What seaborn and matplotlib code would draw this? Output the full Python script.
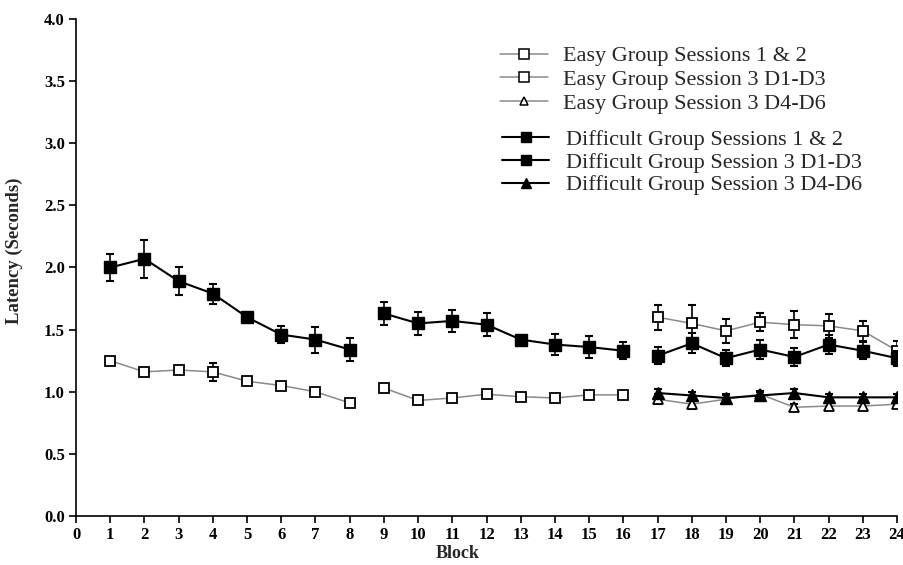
import matplotlib
matplotlib.use("Agg")
import matplotlib.pyplot as plt
from matplotlib.lines import Line2D
import numpy as np
import pandas as pd
import seaborn as sns

# Blocks per session
blocks_s12_a = list(range(1, 9))
blocks_s12_b = list(range(9, 17))
blocks_s3 = list(range(17, 25))

# Easy group
easy_s12_a = [1.25, 1.16, 1.175, 1.16, 1.085, 1.05, 1.00, 0.91]
easy_s12_a_sem = [0.03, 0.03, 0.03, 0.075, 0.03, 0.03, 0.03, 0.03]
easy_s12_b = [1.03, 0.93, 0.95, 0.98, 0.96, 0.95, 0.975, 0.975]
easy_s12_b_sem = [0.03, 0.03, 0.03, 0.03, 0.03, 0.03, 0.03, 0.03]
easy_s3_d13 = [1.60, 1.55, 1.49, 1.56, 1.54, 1.53, 1.49, 1.33]
easy_s3_d13_sem = [0.10, 0.15, 0.095, 0.075, 0.11, 0.095, 0.08, 0.08]
easy_s3_d46 = [0.94, 0.90, 0.94, 0.98, 0.875, 0.885, 0.885, 0.90]
easy_s3_d46_sem = [0.04, 0.04, 0.03, 0.03, 0.03, 0.03, 0.03, 0.03]

# Difficult group
diff_s12_a = [2.00, 2.07, 1.89, 1.79, 1.60, 1.46, 1.42, 1.34]
diff_s12_a_sem = [0.105, 0.155, 0.11, 0.08, 0.03, 0.07, 0.105, 0.095]
diff_s12_b = [1.63, 1.55, 1.57, 1.54, 1.42, 1.38, 1.36, 1.33]
diff_s12_b_sem = [0.09, 0.09, 0.09, 0.095, 0.03, 0.085, 0.085, 0.07]
diff_s3_d13 = [1.29, 1.39, 1.27, 1.34, 1.28, 1.38, 1.33, 1.27]
diff_s3_d13_sem = [0.07, 0.08, 0.065, 0.08, 0.075, 0.08, 0.07, 0.06]
diff_s3_d46 = [0.99, 0.97, 0.95, 0.97, 0.99, 0.955, 0.955, 0.955]
diff_s3_d46_sem = [0.03, 0.03, 0.03, 0.03, 0.03, 0.03, 0.03, 0.03]

legend_easy = ["Easy Group Sessions 1 & 2",
               "Easy Group Session 3 D1-D3",
               "Easy Group Session 3 D4-D6"]
legend_diff = ["Difficult Group Sessions 1 & 2",
               "Difficult Group Session 3 D1-D3",
               "Difficult Group Session 3 D4-D6"]

x_ticks = list(range(0, 25))
y_ticks = [0.0, 0.5, 1.0, 1.5, 2.0, 2.5, 3.0, 3.5, 4.0]

sns.set_theme(style="ticks")
plt.rcParams["font.family"] = ["Liberation Serif", "DejaVu Serif"]

GREY = "#8a8a8a"
easy_style = dict(color=GREY, lw=1.1, mfc="white", mec="black", mew=1.3)
diff_style = dict(color="black", lw=1.5, mfc="black", mec="black", mew=1.0)

segments = [
    (blocks_s12_a, easy_s12_a, easy_s12_a_sem, "s", 7.5, easy_style, 3),
    (blocks_s12_b, easy_s12_b, easy_s12_b_sem, "s", 7.5, easy_style, 3),
    (blocks_s3, easy_s3_d13, easy_s3_d13_sem, "s", 7.5, easy_style, 3),
    (blocks_s3, easy_s3_d46, easy_s3_d46_sem, "^", 7.5, easy_style, 3),
    (blocks_s12_a, diff_s12_a, diff_s12_a_sem, "s", 8.5, diff_style, 4),
    (blocks_s12_b, diff_s12_b, diff_s12_b_sem, "s", 8.5, diff_style, 4),
    (blocks_s3, diff_s3_d13, diff_s3_d13_sem, "s", 8.5, diff_style, 4),
    (blocks_s3, diff_s3_d46, diff_s3_d46_sem, "^", 8.0, diff_style, 4),
]

fig = plt.figure(figsize=(9.04, 5.65), dpi=100)
ax = fig.add_axes([0.0841, 0.0867, 0.9082, 0.8797])

for xs, ys, es, mk, ms, st, z in segments:
    df = pd.DataFrame({"Block": xs, "Latency": ys})
    ax.errorbar(xs, ys, yerr=es, fmt="none", ecolor="black", elinewidth=1.2,
                capsize=3, capthick=1.5, zorder=z - 0.5)
    sns.lineplot(data=df, x="Block", y="Latency", ax=ax, marker=mk,
                 markersize=ms, color=st["color"], linewidth=st["lw"],
                 markerfacecolor=st["mfc"], markeredgecolor=st["mec"],
                 markeredgewidth=st["mew"], zorder=z)

ax.set_xlim(0, 24)
ax.set_ylim(0, 4.0)
ax.set_xticks(x_ticks)
ax.set_xticklabels([str(t) for t in x_ticks])
ax.set_yticks(y_ticks)
ax.set_yticklabels([f"{t:.1f}" for t in y_ticks])
for sp in ["top", "right"]:
    ax.spines[sp].set_visible(False)
for sp in ["left", "bottom"]:
    ax.spines[sp].set_linewidth(1.2)
    ax.spines[sp].set_color("black")
ax.tick_params(axis="both", direction="out", length=5, width=1.2,
               colors="black", labelsize=12, pad=3)
for lab in ax.get_xticklabels() + ax.get_yticklabels():
    lab.set_fontweight("bold")

ax.set_xlabel("Block", fontsize=13, fontweight="bold")
ax.set_ylabel("Latency (Seconds)", fontsize=13.5, fontweight="bold")
ax.xaxis.set_label_coords(0.465, -0.058)
ax.yaxis.set_label_coords(-0.064, 0.533)

# Legends: easy group above, difficult group below
h_easy = [
    Line2D([], [], color=GREY, lw=1.1, marker="s", ms=7, mfc="white", mec="black", mew=1.1),
    Line2D([], [], color=GREY, lw=1.1, marker="s", ms=7, mfc="white", mec="black", mew=1.1),
    Line2D([], [], color=GREY, lw=1.1, marker="^", ms=6, mfc="white", mec="black", mew=1.1),
]
h_diff = [
    Line2D([], [], color="black", lw=1.5, marker="s", ms=7.5, mfc="black", mec="black"),
    Line2D([], [], color="black", lw=1.5, marker="s", ms=7.5, mfc="black", mec="black"),
    Line2D([], [], color="black", lw=1.5, marker="^", ms=7, mfc="black", mec="black"),
]
leg_kw = dict(frameon=False, fontsize=16, handlelength=2.15, borderpad=0,
              borderaxespad=0, loc="upper left")
leg1 = fig.legend(h_easy, legend_easy, bbox_to_anchor=(0.553, 0.919),
                  labelspacing=0.15, handletextpad=0.68, **leg_kw)
leg2 = fig.legend(h_diff, legend_diff, bbox_to_anchor=(0.555, 0.771),
                  labelspacing=0.1, handletextpad=0.75, **leg_kw)

fig.savefig("out.png", dpi=100)
